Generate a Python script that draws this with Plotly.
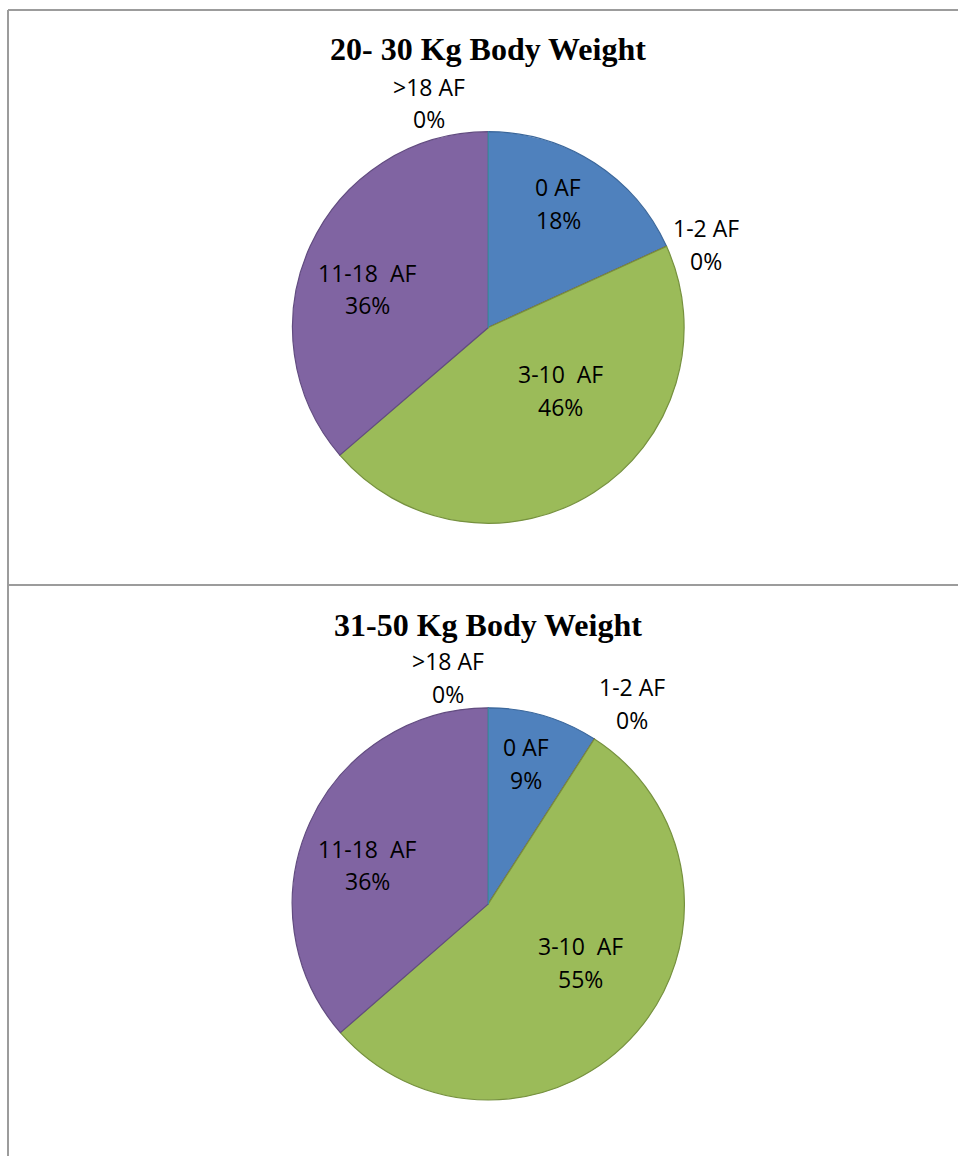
import math
import plotly.graph_objects as go

# ---------------- data ----------------
categories = ["0 AF", "1-2 AF", "3-10  AF", "11-18  AF", ">18 AF"]
values_20_30 = [18.2, 0, 45.5, 36.3, 0]
values_31_50 = [9.1, 0, 54.5, 36.4, 0]
titles = ["20- 30 Kg Body Weight", "31-50 Kg Body Weight"]

# ---------------- style / layout ----------------
W, H = 958, 1156
colors = ["#4F81BD", "#C0504D", "#9BBB59", "#8064A2", "#4BACC6"]
line_colors = ["#3B679B", "#9C3B38", "#76913F", "#624C80", "#3A8EA6"]
LINE_GAP = 32.5  # px between the two lines of a data label

pies = [
    dict(values=values_20_30, title=titles[0], cx=488.3, cy=327.5, r=195.8, title_y=48.8),
    dict(values=values_31_50, title=titles[1], cx=488.3, cy=903.9, r=196.1, title_y=624.5),
]
# label centre offsets from pie centre, pixels (same order as categories)
label_offsets = [
    [(69.7, -124.0), (217.7, -83.0), (71.7, 63.0), (-121.3, -38.5), (-59.3, -224.5)],
    [(37.7, -140.6), (143.4, -200.6), (91.7, 58.6), (-121.3, -38.9), (-40.3, -226.4)],
]

def px(x):
    return x / W

def py(y):
    return 1 - y / H

label_font = dict(family="Open Sans", size=23, color="#000000")

fig = go.Figure()
annotations = []
for i, p in enumerate(pies):
    cx, cy, r = p["cx"], p["cy"], p["r"]
    fig.add_trace(go.Pie(
        labels=categories,
        values=p["values"],
        sort=False,
        direction="clockwise",
        rotation=0,
        textinfo="none",
        marker=dict(colors=colors, line=dict(color=line_colors, width=1.2)),
        domain=dict(x=[px(cx - r), px(cx + r)], y=[py(cy + r), py(cy - r)]),
        showlegend=False,
    ))
    total = sum(p["values"])
    for cat, v, (dx, dy) in zip(categories, p["values"], label_offsets[i]):
        pct = math.floor(100 * v / total + 0.5)
        for text, off in ((cat, -LINE_GAP / 2), (f"{pct}%", LINE_GAP / 2)):
            annotations.append(dict(
                x=px(cx + dx), y=py(cy + dy + off), xref="paper", yref="paper",
                xanchor="center", yanchor="middle", showarrow=False,
                text=text, font=label_font,
            ))
    annotations.append(dict(
        x=px(cx), y=py(p["title_y"]), xref="paper", yref="paper",
        xanchor="center", yanchor="middle", showarrow=False,
        text=f"<b>{p['title']}</b>",
        font=dict(family="Liberation Serif", size=32, color="#000000"),
    ))

border = dict(color="#9C9C9C", width=2)
shapes = [
    dict(type="line", xref="paper", yref="paper", x0=px(8), x1=1, y0=py(10), y1=py(10), line=border),
    dict(type="line", xref="paper", yref="paper", x0=px(8), x1=1, y0=py(585), y1=py(585), line=border),
    dict(type="line", xref="paper", yref="paper", x0=px(8), x1=px(8), y0=py(10), y1=0, line=border),
]

fig.update_layout(
    width=W, height=H, autosize=False,
    margin=dict(l=0, r=0, t=0, b=0),
    paper_bgcolor="#FFFFFF", plot_bgcolor="#FFFFFF",
    annotations=annotations, shapes=shapes,
    showlegend=False,
)
fig.write_html("out.html")
